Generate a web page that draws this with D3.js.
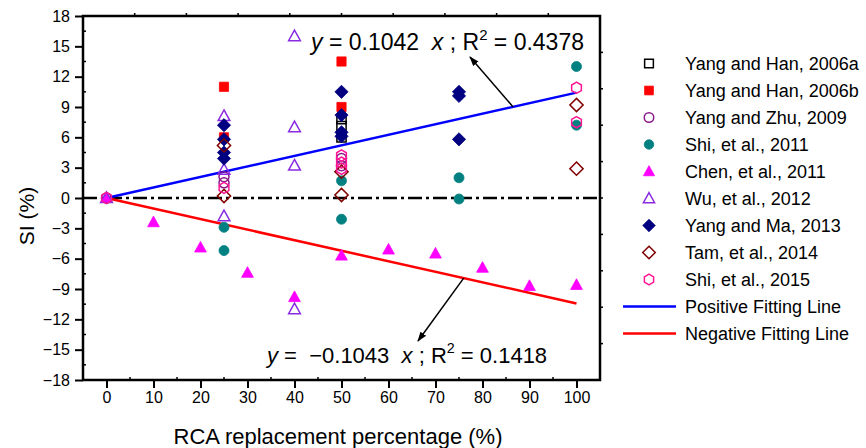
<!DOCTYPE html>
<html>
<head>
<meta charset="utf-8">
<script src="https://cdn.jsdelivr.net/npm/d3@7"></script>
<style>
  body { margin: 0; background: #fff; }
  text { font-family: "Liberation Sans", Arial, Helvetica, sans-serif; fill: #000; }
</style>
</head>
<body>
<svg id="chart" width="866" height="448"></svg>
<script>
// ---- data ----------------------------------------------------------------
const xTicks = [0, 10, 20, 30, 40, 50, 60, 70, 80, 90, 100];
const yTicks = [-18, -15, -12, -9, -6, -3, 0, 3, 6, 9, 12, 15, 18];

const seriesNames = [
  "Yang and Han, 2006a", "Yang and Han, 2006b", "Yang and Zhu, 2009",
  "Shi, et al., 2011", "Chen, et al., 2011", "Wu, et al., 2012",
  "Yang and Ma, 2013", "Tam, et al., 2014", "Shi, et al., 2015"
];

// [RCA replacement %, SI %]
const yangHan2006a = [[50, 7.8], [50, 7.1], [50, 6.0]];
const yangHan2006b = [[25, 11.0], [25, 6.0], [50, 13.5], [50, 9.0]];
const yangZhu2009  = [[0, 0], [25, 2.1], [25, 1.5], [50, 3.9], [50, 3.2]];
const shi2011      = [[25, -2.9], [25, -5.2], [50, 1.7], [50, -2.1], [75, 2.0], [75, -0.1], [100, 13.0], [100, 7.2]];
const chen2011     = [[0, 0], [10, -2.4], [20, -4.9], [30, -7.4], [40, -9.8], [50, -5.7], [60, -5.1], [70, -5.5], [80, -6.9], [90, -8.7], [100, -8.6]];
const wu2012       = [[0, 0], [25, 8.1], [25, 2.8], [25, -1.8], [40, 16.0], [40, 7.0], [40, 3.2], [40, -11.0]];
const yangMa2013   = [[25, 7.2], [25, 5.8], [25, 4.5], [25, 3.9], [50, 10.5], [50, 8.2], [50, 6.5], [50, 6.1], [75, 10.5], [75, 10.1], [75, 5.8]];
const tam2014      = [[25, 5.2], [25, 0.2], [50, 2.6], [50, 0.3], [100, 9.2], [100, 2.9]];
const shi2015      = [[0, 0], [25, 1.0], [50, 4.2], [50, 3.5], [50, 2.9], [100, 10.9], [100, 7.5]];

const fitNames  = ["Positive Fitting Line", "Negative Fitting Line"];
const fitSlopes = [0.1042, -0.1043];
const fitR2     = [0.4378, 0.1418];
const fitRange  = [0, 100];

// ---- styles ----------------------------------------------------------------
const seriesData   = [yangHan2006a, yangHan2006b, yangZhu2009, shi2011, chen2011, wu2012, yangMa2013, tam2014, shi2015];
const seriesShape  = ["square", "square", "circle", "circle", "triangle", "triangle", "diamond", "diamond", "hexagon"];
const seriesColor  = ["#000000", "#ff0000", "#8b1a8b", "#008080", "#ff00ff", "#8a2be2", "#000080", "#800000", "#ff1493"];
const seriesFilled = [false, true, false, true, true, false, true, false, false];
const fitColor     = ["#0000ff", "#ff0000"];

const W = 866, H = 448;
const margin = { left: 83, right: 266, top: 16, bottom: 68 };
const svg = d3.select("#chart");

const x = d3.scaleLinear().domain([-5, 105]).range([margin.left, W - margin.right]);
const y = d3.scaleLinear().domain([-18, 18]).range([H - margin.bottom, margin.top]);

const shapeSize = { square: 4.6, circle: 5, triangle: 5.6, diamond: 6.6, hexagon: 5.6 };

function symbolPath(shape, r) {
  switch (shape) {
    case "square":
      return `M${-r},${-r}h${2 * r}v${2 * r}h${-2 * r}Z`;
    case "circle":
      return `M${r},0A${r},${r},0,1,1,${-r},0A${r},${r},0,1,1,${r},0Z`;
    case "triangle":
      return `M0,${-r * 1.1}L${r * 1.05},${r * 0.8}L${-r * 1.05},${r * 0.8}Z`;
    case "diamond":
      return `M0,${-r}L${r},0L0,${r}L${-r},0Z`;
    case "hexagon": {
      const pts = d3.range(6).map(i => {
        const a = (-90 + 60 * i) * Math.PI / 180;
        return [r * Math.cos(a), r * Math.sin(a)];
      });
      return "M" + pts.map(p => p.join(",")).join("L") + "Z";
    }
  }
}

// ---- axes ------------------------------------------------------------------
const x0 = x.range()[0], x1 = x.range()[1];
const y0 = y.range()[0], y1 = y.range()[1];

const bottomAxis = d3.axisBottom(x).tickValues(xTicks).tickSize(8).tickPadding(4).tickFormat(d3.format("d"));
const leftAxis = d3.axisLeft(y).tickValues(yTicks).tickSize(8).tickPadding(5).tickFormat(d3.format("d"));

const gb = svg.append("g").attr("transform", `translate(0,${y0})`).call(bottomAxis);
const gl = svg.append("g").attr("transform", `translate(${x0},0)`).call(leftAxis);
[gb, gl].forEach(g => {
  g.select(".domain").remove();
  g.selectAll(".tick line").attr("stroke", "#000").attr("stroke-width", 2);
  g.selectAll(".tick text").attr("font-size", 16).attr("fill", "#000")
    .style("font-family", '"Liberation Sans", Arial, sans-serif');
});

// minor ticks pointing inward
svg.append("g").selectAll("line").data(d3.range(-16.5, 18, 3)).join("line")
  .attr("x1", x0).attr("x2", x0 + 3).attr("y1", d => y(d)).attr("y2", d => y(d))
  .attr("stroke", "#000").attr("stroke-width", 1.5);
svg.append("g").selectAll("line").data(d3.range(5, 100, 10)).join("line")
  .attr("x1", d => x(d)).attr("x2", d => x(d)).attr("y1", y0).attr("y2", y0 - 3)
  .attr("stroke", "#000").attr("stroke-width", 1.5);

// small outward ticks on right and top edges
svg.append("g").selectAll("line").data(d3.range(1, 10)).join("line")
  .attr("x1", x1).attr("x2", x1 + 3)
  .attr("y1", i => y1 + (y0 - y1) * i / 10).attr("y2", i => y1 + (y0 - y1) * i / 10)
  .attr("stroke", "#000").attr("stroke-width", 1.5);
svg.append("g").selectAll("line").data(d3.range(1, 10)).join("line")
  .attr("x1", i => x0 + (x1 - x0) * i / 10).attr("x2", i => x0 + (x1 - x0) * i / 10)
  .attr("y1", y1).attr("y2", y1 - 3)
  .attr("stroke", "#000").attr("stroke-width", 1.5);

// frame
svg.append("rect")
  .attr("x", x0).attr("y", y1).attr("width", x1 - x0).attr("height", y0 - y1)
  .attr("fill", "none").attr("stroke", "#000").attr("stroke-width", 2.5);

// axis titles
svg.append("text")
  .attr("transform", `translate(34,${(y0 + y1) / 2 + 18}) rotate(-90)`)
  .attr("text-anchor", "middle").attr("font-size", 21).text("SI (%)");
svg.append("text")
  .attr("x", 338).attr("y", 444)
  .attr("text-anchor", "middle").attr("font-size", 22).text("RCA replacement percentage (%)");

// ---- plot contents ---------------------------------------------------------
const plot = svg.append("g");

// zero reference line (dash-dot)
plot.append("line")
  .attr("x1", x0).attr("x2", x1).attr("y1", y(0)).attr("y2", y(0))
  .attr("stroke", "#000").attr("stroke-width", 2.5)
  .attr("stroke-dasharray", "14,4,3,4");

// fitted lines
fitSlopes.forEach((k, i) => {
  plot.append("line")
    .attr("x1", x(fitRange[0])).attr("y1", y(k * fitRange[0]))
    .attr("x2", x(fitRange[1])).attr("y2", y(k * fitRange[1]))
    .attr("stroke", fitColor[i]).attr("stroke-width", 2.5);
});

// markers
seriesData.forEach((pts, i) => {
  plot.append("g").selectAll("path").data(pts).join("path")
    .attr("transform", d => `translate(${x(d[0])},${y(d[1])})`)
    .attr("d", symbolPath(seriesShape[i], shapeSize[seriesShape[i]]))
    .attr("fill", seriesFilled[i] ? seriesColor[i] : "none")
    .attr("stroke", seriesColor[i])
    .attr("stroke-width", seriesFilled[i] ? 0.8 : 1.5);
});

// ---- equation annotations ----------------------------------------------------
const defs = svg.append("defs");
defs.append("marker").attr("id", "arrowHead")
  .attr("viewBox", "0 0 10 10").attr("refX", 9).attr("refY", 5)
  .attr("markerWidth", 10).attr("markerHeight", 10).attr("markerUnits", "userSpaceOnUse")
  .attr("orient", "auto")
  .append("path").attr("d", "M0,1.5L10,5L0,8.5Z").attr("fill", "#000");

const fmtSlope = d3.format(".4f");
const annot = [
  { tx: 311, ty: 50, lead: " = ", size: 23, arrowAt: 86.5, end: [470, 57] },
  { tx: 267, ty: 363, lead: " =  ", size: 22, arrowAt: 76, end: [418, 341] }
];

fitSlopes.forEach((k, i) => {
  const a = annot[i];
  const t = svg.append("text").attr("x", a.tx).attr("y", a.ty)
    .attr("font-size", a.size).style("white-space", "pre");
  t.append("tspan").attr("font-style", "italic").text("y");
  t.append("tspan").text(a.lead + fmtSlope(k) + "  ");
  t.append("tspan").attr("font-style", "italic").text("x");
  t.append("tspan").text(" ; R");
  t.append("tspan").attr("font-size", a.size * 0.65).attr("dy", -10).text("2");
  t.append("tspan").attr("dy", 10).text(" = " + d3.format(".4f")(fitR2[i]));

  svg.append("line")
    .attr("x1", x(a.arrowAt)).attr("y1", y(k * a.arrowAt))
    .attr("x2", a.end[0]).attr("y2", a.end[1])
    .attr("stroke", "#000").attr("stroke-width", 1.5)
    .attr("marker-end", "url(#arrowHead)");
});

// ---- legend ----------------------------------------------------------------
const legend = svg.append("g");
const legX = 649, legText = 685, legY0 = 63.5, legStep = 27;

seriesNames.forEach((name, i) => {
  const cy = legY0 + i * legStep;
  const s = seriesShape[i];
  legend.append("path")
    .attr("transform", `translate(${legX},${cy})`)
    .attr("d", symbolPath(s, shapeSize[s] * 0.95))
    .attr("fill", seriesFilled[i] ? seriesColor[i] : "none")
    .attr("stroke", seriesColor[i])
    .attr("stroke-width", seriesFilled[i] ? 0.8 : 1.5);
  legend.append("text").attr("x", legText).attr("y", cy + 6.5)
    .attr("font-size", 18).text(name);
});
fitNames.forEach((name, i) => {
  const cy = legY0 + (seriesNames.length + i) * legStep;
  legend.append("line").attr("x1", 623).attr("x2", 676).attr("y1", cy).attr("y2", cy)
    .attr("stroke", fitColor[i]).attr("stroke-width", 2.5);
  legend.append("text").attr("x", legText).attr("y", cy + 6.5)
    .attr("font-size", 18).text(name);
});
</script>
</body>
</html>
